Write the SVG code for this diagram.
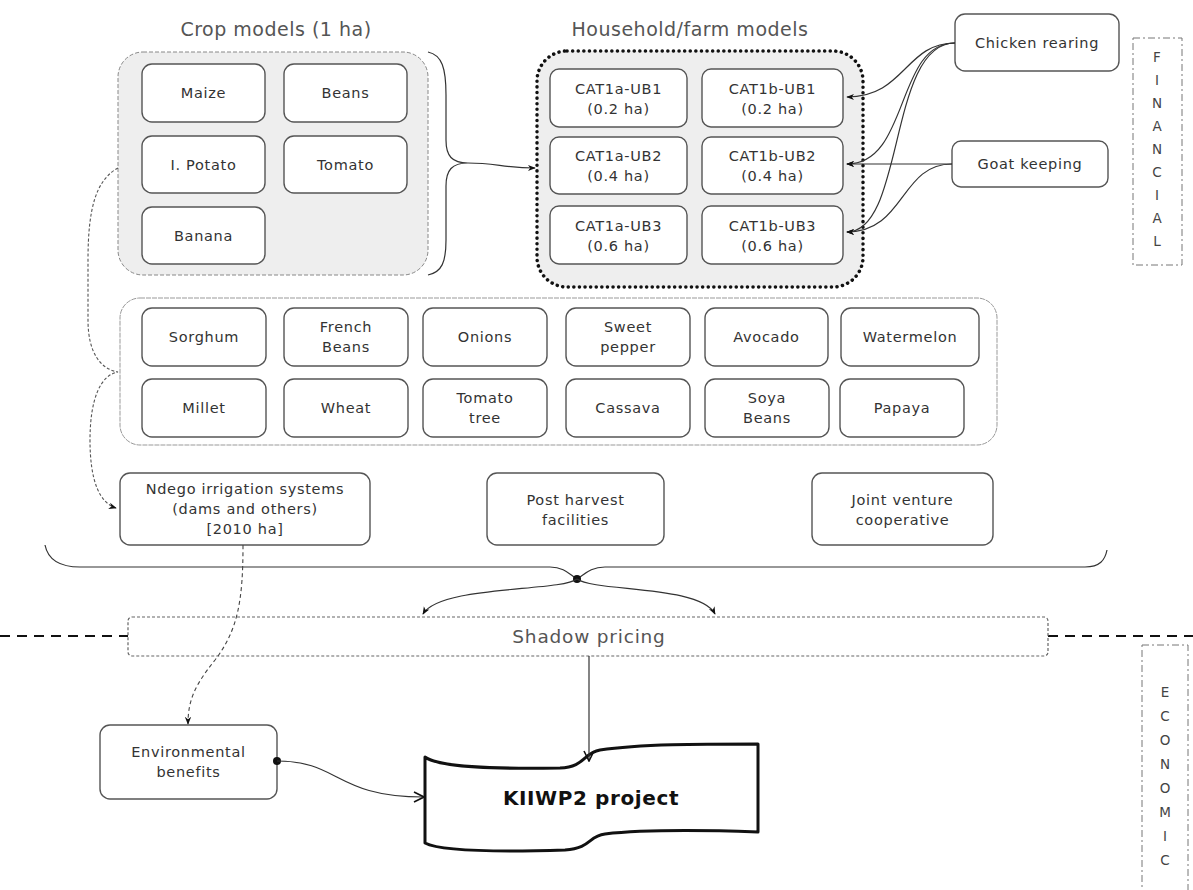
<svg xmlns="http://www.w3.org/2000/svg" width="1193" height="890" viewBox="0 0 1193 890">
<style>
.t{font-family:"DejaVu Sans","Liberation Sans",sans-serif;font-size:14.5px;letter-spacing:0.7px;fill:#333;text-anchor:middle}
.title{font-family:"DejaVu Sans","Liberation Sans",sans-serif;font-size:19px;letter-spacing:0.5px;fill:#555;text-anchor:middle}
.box{fill:#fff;stroke:#555;stroke-width:1.4}
.c{fill:none;stroke:#333;stroke-width:1.2}
.v{font-family:"DejaVu Sans","Liberation Sans",sans-serif;font-size:13.5px;fill:#444;text-anchor:middle}
</style>
<defs>
<marker id="ah" viewBox="0 0 10 10" refX="9" refY="5" markerWidth="8" markerHeight="8" orient="auto" markerUnits="userSpaceOnUse"><path d="M0,1 L10,5 L0,9 L3,5 Z" fill="#111"/></marker>
<marker id="av" viewBox="0 0 12 12" refX="11" refY="6" markerWidth="12" markerHeight="12" orient="auto" markerUnits="userSpaceOnUse"><path d="M1,1 L11,6 L1,11" fill="none" stroke="#111" stroke-width="1.6"/></marker>
</defs>
<rect width="1193" height="890" fill="#fff"/>

<g id="titles">
<text class="title" x="276" y="36">Crop models (1 ha)</text>
<text class="title" x="690" y="36">Household/farm models</text>
</g>

<g id="crop-models">
<rect x="118" y="52" width="310" height="223" rx="25" fill="#eee" stroke="#888" stroke-width="1" stroke-dasharray="4 2"/>
<g id="maize"><rect class="box" x="142" y="64" width="123" height="58" rx="10"/><text class="t" x="203.5" y="98">Maize</text></g>
<g id="beans"><rect class="box" x="284" y="64" width="123" height="58" rx="10"/><text class="t" x="345.5" y="98">Beans</text></g>
<g id="ipotato"><rect class="box" x="142" y="136" width="123" height="57" rx="10"/><text class="t" x="203.5" y="170">I. Potato</text></g>
<g id="tomato"><rect class="box" x="284" y="136" width="123" height="57" rx="10"/><text class="t" x="345.5" y="170">Tomato</text></g>
<g id="banana"><rect class="box" x="142" y="207" width="123" height="57" rx="10"/><text class="t" x="203.5" y="241">Banana</text></g>
</g>

<g id="household-models">
<rect x="537" y="51" width="326" height="236" rx="30" fill="#eee" stroke="#111" stroke-width="3.5" stroke-dasharray="0.1 5.5" stroke-linecap="round"/>
<g id="cat1a-ub1"><rect class="box" x="550" y="69" width="137" height="58" rx="9"/><text class="t" x="618.5" y="94">CAT1a-UB1</text><text class="t" x="618.5" y="114">(0.2 ha)</text></g>
<g id="cat1b-ub1"><rect class="box" x="702" y="69" width="141" height="58" rx="9"/><text class="t" x="772.5" y="94">CAT1b-UB1</text><text class="t" x="772.5" y="114">(0.2 ha)</text></g>
<g id="cat1a-ub2"><rect class="box" x="550" y="137" width="137" height="57" rx="9"/><text class="t" x="618.5" y="161">CAT1a-UB2</text><text class="t" x="618.5" y="181">(0.4 ha)</text></g>
<g id="cat1b-ub2"><rect class="box" x="702" y="137" width="141" height="57" rx="9"/><text class="t" x="772.5" y="161">CAT1b-UB2</text><text class="t" x="772.5" y="181">(0.4 ha)</text></g>
<g id="cat1a-ub3"><rect class="box" x="550" y="206" width="137" height="58" rx="9"/><text class="t" x="618.5" y="231">CAT1a-UB3</text><text class="t" x="618.5" y="251">(0.6 ha)</text></g>
<g id="cat1b-ub3"><rect class="box" x="702" y="206" width="141" height="58" rx="9"/><text class="t" x="772.5" y="231">CAT1b-UB3</text><text class="t" x="772.5" y="251">(0.6 ha)</text></g>
</g>

<g id="chicken"><rect class="box" x="955" y="14" width="164" height="57" rx="10"/><text class="t" x="1037" y="48">Chicken rearing</text></g>
<g id="goat"><rect class="box" x="952" y="141" width="156" height="46" rx="9"/><text class="t" x="1030" y="169">Goat keeping</text></g>

<g id="financial">
<rect x="1133" y="38" width="49" height="227" fill="none" stroke="#777" stroke-width="1" stroke-dasharray="7 3 2 3"/>
<text class="v" x="1157" y="62">F</text><text class="v" x="1157" y="85">I</text><text class="v" x="1157" y="108">N</text><text class="v" x="1157" y="131">A</text><text class="v" x="1157" y="154">N</text><text class="v" x="1157" y="177">C</text><text class="v" x="1157" y="200">I</text><text class="v" x="1157" y="223">A</text><text class="v" x="1157" y="246">L</text>
</g>

<g id="other-crops">
<rect x="120" y="298" width="877" height="147" rx="20" fill="#fff" stroke="#999" stroke-width="1" stroke-dasharray="5 1"/>
<g id="sorghum"><rect class="box" x="142" y="308" width="124" height="58" rx="10"/><text class="t" x="204" y="342">Sorghum</text></g>
<g id="french-beans"><rect class="box" x="284" y="308" width="124" height="58" rx="10"/><text class="t" x="346" y="332">French</text><text class="t" x="346" y="352">Beans</text></g>
<g id="onions"><rect class="box" x="423" y="308" width="124" height="58" rx="10"/><text class="t" x="485" y="342">Onions</text></g>
<g id="sweet-pepper"><rect class="box" x="566" y="308" width="124" height="58" rx="10"/><text class="t" x="628" y="332">Sweet</text><text class="t" x="628" y="352">pepper</text></g>
<g id="avocado"><rect class="box" x="705" y="308" width="123" height="58" rx="10"/><text class="t" x="766.5" y="342">Avocado</text></g>
<g id="watermelon"><rect class="box" x="841" y="308" width="138" height="58" rx="10"/><text class="t" x="910" y="342">Watermelon</text></g>
<g id="millet"><rect class="box" x="142" y="379" width="124" height="58" rx="10"/><text class="t" x="204" y="413">Millet</text></g>
<g id="wheat"><rect class="box" x="284" y="379" width="124" height="58" rx="10"/><text class="t" x="346" y="413">Wheat</text></g>
<g id="tomato-tree"><rect class="box" x="423" y="379" width="124" height="58" rx="10"/><text class="t" x="485" y="403">Tomato</text><text class="t" x="485" y="423">tree</text></g>
<g id="cassava"><rect class="box" x="566" y="379" width="124" height="58" rx="10"/><text class="t" x="628" y="413">Cassava</text></g>
<g id="soya-beans"><rect class="box" x="705" y="379" width="124" height="58" rx="10"/><text class="t" x="767" y="403">Soya</text><text class="t" x="767" y="423">Beans</text></g>
<g id="papaya"><rect class="box" x="840" y="379" width="124" height="58" rx="10"/><text class="t" x="902" y="413">Papaya</text></g>
</g>

<g id="ndego"><rect class="box" x="120" y="473" width="250" height="72" rx="10"/><text class="t" x="245" y="494">Ndego irrigation systems</text><text class="t" x="245" y="514">(dams and others)</text><text class="t" x="245" y="534">[2010 ha]</text></g>
<g id="post-harvest"><rect class="box" x="487" y="473" width="177" height="72" rx="10"/><text class="t" x="575.5" y="505">Post harvest</text><text class="t" x="575.5" y="525">facilities</text></g>
<g id="joint-venture"><rect class="box" x="812" y="473" width="181" height="72" rx="10"/><text class="t" x="902.5" y="505">Joint venture</text><text class="t" x="902.5" y="525">cooperative</text></g>

<g id="divider">
<line x1="0" y1="636" x2="128" y2="636" stroke="#111" stroke-width="2" stroke-dasharray="10 7"/>
<line x1="1048" y1="636" x2="1193" y2="636" stroke="#111" stroke-width="2" stroke-dasharray="10 7"/>
</g>

<g id="shadow-pricing"><rect x="128" y="617" width="920" height="39" rx="4" fill="#fff" stroke="#666" stroke-width="1.2" stroke-dasharray="3 2"/><text class="title" x="589" y="643" style="font-size:18.5px;letter-spacing:0.8px">Shadow pricing</text></g>

<g id="economic">
<rect x="1142" y="645" width="46" height="260" fill="none" stroke="#777" stroke-width="1" stroke-dasharray="7 3 2 3"/>
<text class="v" x="1165" y="697">E</text><text class="v" x="1165" y="721">C</text><text class="v" x="1165" y="745">O</text><text class="v" x="1165" y="769">N</text><text class="v" x="1165" y="793">O</text><text class="v" x="1165" y="817">M</text><text class="v" x="1165" y="841">I</text><text class="v" x="1165" y="865">C</text>
</g>

<g id="environmental"><rect class="box" x="100" y="725" width="177" height="74" rx="10"/><text class="t" x="188.5" y="757">Environmental</text><text class="t" x="188.5" y="777">benefits</text></g>

<g id="kiiwp2">
<path d="M425,757 C440,768 500,769 560,768 C585,767 583,753 600,750 C640,744 700,744 758,744 L758,832 C700,830 640,830 605,834 C588,836 592,848 565,850 C500,852 440,851 425,843 Z" fill="#fff" stroke="#111" stroke-width="3" stroke-linejoin="round"/>
<text x="591" y="805" style="font-family:'DejaVu Sans','Liberation Sans',sans-serif;font-size:20px;letter-spacing:0.6px;font-weight:bold;fill:#111;text-anchor:middle">KIIWP2 project</text>
</g>

<g id="connectors">
<path class="c" d="M428,52 C442,55 446,68 446,95 L446,140 C446,156 452,163 468,163 C452,163 446,170 446,186 L446,240 C446,262 442,272 428,275"/>
<path class="c" d="M468,163 C495,163 505,168 535,168" marker-end="url(#ah)"/>
<path class="c" d="M955,43 C905,43 905,97 847,97" marker-end="url(#ah)"/>
<path class="c" d="M955,43 C895,43 910,164 847,164" marker-end="url(#ah)"/>
<path class="c" d="M955,43 C888,43 905,232 847,232" marker-end="url(#ah)"/>
<path class="c" d="M952,164 L847,164" marker-end="url(#ah)"/>
<path class="c" d="M952,164 C900,164 905,232 847,232" marker-end="url(#ah)"/>
<path d="M118,168 C96,180 88,208 88,260 L88,320 C88,352 100,369 118,372 C100,375 90,400 90,440 C90,482 100,503 116,508" fill="none" stroke="#555" stroke-width="1.1" stroke-dasharray="3 2" marker-end="url(#ah)"/>
<path class="c" d="M45,545 C48,560 60,567 80,567 L550,567 C565,567 570,575 577,579 C584,575 590,567 605,567 L1085,567 C1100,567 1105,560 1107,550"/>
<circle cx="577" cy="579" r="4" fill="#111"/>
<path class="c" d="M577,579 C560,592 440,585 423,614" marker-end="url(#ah)"/>
<path class="c" d="M577,579 C595,592 700,585 715,614" marker-end="url(#ah)"/>
<path d="M243,545 C243,600 238,630 215,660 C195,685 188,700 188,724" fill="none" stroke="#444" stroke-width="1.1" stroke-dasharray="4 3" marker-end="url(#ah)"/>
<path class="c" d="M589,656 L589,761" marker-end="url(#av)"/>
<circle cx="277" cy="761" r="4" fill="#111"/>
<path class="c" d="M277,761 C340,761 335,797 424,797" marker-end="url(#av)"/>
</g>
</svg>
